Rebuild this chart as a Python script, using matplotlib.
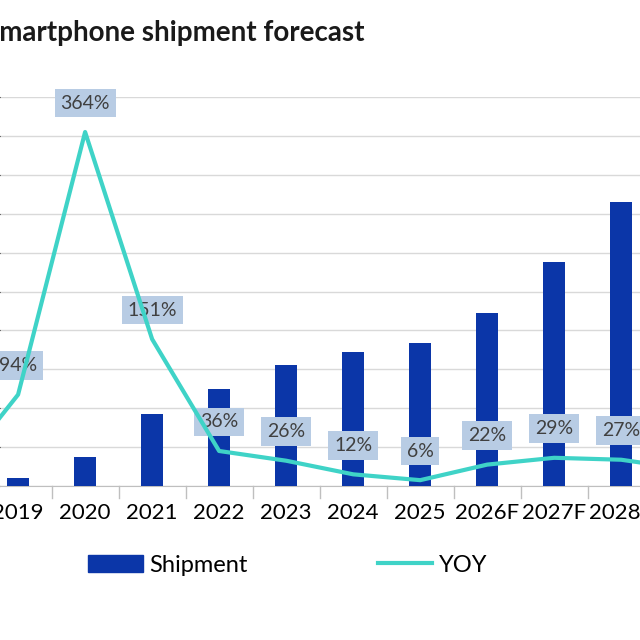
import matplotlib
matplotlib.use("Agg")
import matplotlib.pyplot as plt
from matplotlib.patches import Patch
from matplotlib.lines import Line2D

plt.rcParams['font.family'] = ['Lato', 'DejaVu Sans']

years = ["2018", "2019", "2020", "2021", "2022", "2023", "2024", "2025", "2026F", "2027F", "2028F", "2029F"]
shipment = [0.1, 0.2, 0.75, 1.85, 2.5, 3.1, 3.45, 3.67, 4.45, 5.77, 7.3, 9.0]
yoy = [7, 94, 364, 151, 36, 26, 12, 6, 22, 29, 27, 17]
labeled = ["2019", "2020", "2021", "2022", "2023", "2024", "2025", "2026F", "2027F", "2028F"]

bar_c = "#0b36a8"
line_c = "#3fd3c7"

fig = plt.figure(figsize=(6.4, 6.4), dpi=100)
ax = fig.add_axes([0, 154/640, 1, 389/640])
x = list(range(len(years)))
ax.bar(x, shipment, width=0.33, color=bar_c, zorder=3)
for b in range(len(years) - 1):
    ax.plot([b + 0.5, b + 0.5], [0, -0.3], color='#bfbfbf', lw=1, clip_on=False)
ax.set_ylim(0, 10)
ax.set_yticks(range(0, 11))
ax.grid(axis='y', color='#d9d9d9', lw=1, zorder=0)
ax.set_xlim(0.73, 10.28)
ax.set_xticks(x)
ax.set_xticklabels(years, fontsize=16)
ax.tick_params(axis='x', length=0, pad=12)
ax.tick_params(axis='y', left=False, labelleft=False)
for s in ['top', 'left', 'right']:
    ax.spines[s].set_visible(False)
ax.spines['bottom'].set_color('#bfbfbf')

ax2 = ax.twinx()
ax2.set_ylim(0, 400)
ax2.plot(x, yoy, color=line_c, lw=3, zorder=4)
ax2.set_xlim(0.73, 10.28)
ax2.axis('off')
for i, (yr, v) in enumerate(zip(years, yoy)):
    if yr in labeled:
        ax2.annotate(f"{v}%", (i, v), xytext=(0, 29), textcoords='offset pixels',
                     ha='center', va='center', fontsize=14, color='#404040',
                     bbox=dict(boxstyle='square,pad=0.3', fc='#b8cce4', ec='none'))

fig.text(-0.025, 0.948, "Smartphone shipment forecast", fontsize=20, fontweight='bold',
         ha='left', va='center', color='#1a1a1a')

handles = [Patch(color=bar_c, label='Shipment'), Line2D([], [], color=line_c, lw=3, label='YOY')]
fig.legend(handles=handles, loc='center', bbox_to_anchor=(0.45, 0.117), ncol=2, frameon=False,
           fontsize=17, handlelength=2.3, columnspacing=5.5, handletextpad=0.3)

fig.savefig("out.png", dpi=100)
